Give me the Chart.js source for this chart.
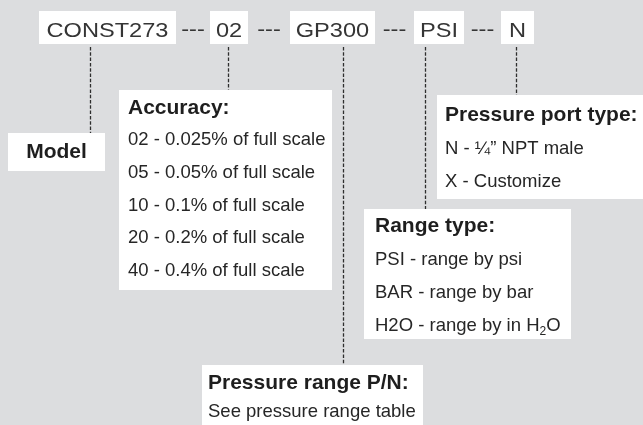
<!DOCTYPE html>
<html>
<head>
<meta charset="utf-8">
<script src="https://cdn.jsdelivr.net/npm/chart.js@4/dist/chart.umd.min.js"></script>
<style>
  html, body { margin: 0; padding: 0; background: #dcdddf; }
  canvas { display: block; }
</style>
</head>
<body>
<canvas id="partChart" width="643" height="425"></canvas>
<script>
// part number segments, left to right
const codes = ["CONST273", "02", "GP300", "PSI", "N"];
const separator = "---";

const modelTitle = "Model";
const accuracyTitle = "Accuracy:";
const accuracyOptions = [
    "02 - 0.025% of full scale",
    "05 - 0.05% of full scale",
    "10 - 0.1% of full scale",
    "20 - 0.2% of full scale",
    "40 - 0.4% of full scale"
];
const rangePnTitle = "Pressure range P/N:";
const rangePnOptions = ["See pressure range table"];
const rangeTypeTitle = "Range type:";
const rangeTypeOptions = [
    "PSI - range by psi",
    "BAR - range by bar",
    "H2O - range by in H\u2082O"
];
const portTitle = "Pressure port type:";
const portOptions = ["N - \u00BC\u201D NPT male", "X - Customize"];

// layout (canvas units, y grows downward)
const codeBoxes = [[39, 176], [210, 248], [290, 375], [414, 464], [501, 534]];
const codeRow = { top: 11, bottom: 44, baseline: 37 };

const panels = [
    { box: [8, 105, 133, 171], title: modelTitle, lines: [], center: true, titleBase: 158 },
    { box: [119, 332, 90, 290], title: accuracyTitle, lines: accuracyOptions, textX: 128, titleBase: 114, firstBase: 145, gap: 32.8 },
    { box: [202, 423, 365, 430], title: rangePnTitle, lines: rangePnOptions, textX: 208, titleBase: 389, firstBase: 417, gap: 33 },
    { box: [364, 571, 209, 339], title: rangeTypeTitle, lines: rangeTypeOptions, textX: 375, titleBase: 232, firstBase: 265, gap: 33 },
    { box: [437, 650, 95, 199], title: portTitle, lines: portOptions, textX: 445, titleBase: 121, firstBase: 154, gap: 33 }
];

// dashed leader from each code down to its panel
const leaderX = [90.5, 228.5, 343.5, 425.5, 516.5];
const leaderStart = 47;

const titleFont = "bold 21px 'Liberation Sans', Arial, sans-serif";
const codeFont = "19.5px 'Liberation Sans', Arial, sans-serif";
const codeStretch = 1.21;

const leaderSets = codes.map((c, i) => ({
    label: c,
    data: [
        { x: leaderX[i], y: leaderStart },
        { x: leaderX[i], y: panels[i].box[2] }
    ],
    showLine: true,
    borderColor: "#2e2e2e",
    borderWidth: 1.3,
    borderDash: [3.5, 1.8],
    pointRadius: 0,
    fill: false
}));

function px(chart, x) { return chart.scales.x.getPixelForValue(x); }
function py(chart, y) { return chart.scales.y.getPixelForValue(y); }

// draws text, handling the subscript ₂
function drawRich(ctx, str, x, y, size) {
    const parts = str.split("\u2082");
    let cx = x;
    parts.forEach((p, i) => {
        ctx.font = size + "px 'Liberation Sans', Arial, sans-serif";
        ctx.fillText(p, cx, y);
        cx += ctx.measureText(p).width;
        if (i < parts.length - 1) {
            ctx.font = (size * 0.65) + "px 'Liberation Sans', Arial, sans-serif";
            ctx.fillText("2", cx, y + size * 0.22);
            cx += ctx.measureText("2").width;
        }
    });
}

const backgroundPlugin = {
    id: "bg",
    beforeDraw(chart) {
        const ctx = chart.ctx;
        ctx.save();
        ctx.fillStyle = "#dcdddf";
        ctx.fillRect(0, 0, chart.width, chart.height);
        ctx.restore();
    }
};

const diagramPlugin = {
    id: "diagram",
    afterDatasetsDraw(chart) {
        const ctx = chart.ctx;
        ctx.save();

        // top row boxes with the codes
        codes.forEach((c, i) => {
            const [a, b] = codeBoxes[i];
            const x0 = px(chart, a), x1 = px(chart, b);
            const y0 = py(chart, codeRow.top), y1 = py(chart, codeRow.bottom);
            ctx.fillStyle = "#ffffff";
            ctx.fillRect(x0, y0, x1 - x0, y1 - y0);

            ctx.fillStyle = "#353535";
            ctx.font = codeFont;
            ctx.textAlign = "center";
            ctx.textBaseline = "alphabetic";
            ctx.save();
            ctx.translate((x0 + x1) / 2, py(chart, codeRow.baseline));
            ctx.scale(codeStretch, 1);
            ctx.fillText(c, 0, 0);
            ctx.restore();

            if (i < codes.length - 1) {
                const mid = (b + codeBoxes[i + 1][0]) / 2;
                ctx.save();
                ctx.translate(px(chart, mid), py(chart, codeRow.baseline - 1));
                ctx.scale(codeStretch, 1);
                ctx.fillText(separator, 0, 0);
                ctx.restore();
            }
        });

        // description panels
        panels.forEach(p => {
            const [a, b, t, u] = p.box;
            const x0 = px(chart, a), x1 = px(chart, b);
            const y0 = py(chart, t), y1 = py(chart, u);
            ctx.fillStyle = "#ffffff";
            ctx.fillRect(x0, y0, x1 - x0, y1 - y0);

            ctx.fillStyle = "#1e1e1e";
            ctx.font = titleFont;
            ctx.textBaseline = "alphabetic";
            if (p.center) {
                ctx.textAlign = "center";
                ctx.fillText(p.title, (x0 + x1) / 2, py(chart, p.titleBase));
            } else {
                ctx.textAlign = "left";
                ctx.fillText(p.title, px(chart, p.textX), py(chart, p.titleBase));
            }

            ctx.textAlign = "left";
            ctx.fillStyle = "#262626";
            p.lines.forEach((line, k) => {
                drawRich(ctx, line, px(chart, p.textX), py(chart, p.firstBase + k * p.gap), 18.5);
            });
        });

        ctx.restore();
    }
};

new Chart(document.getElementById("partChart"), {
    type: "scatter",
    data: { datasets: leaderSets },
    options: {
        responsive: false,
        animation: false,
        layout: { padding: 0 },
        plugins: {
            legend: { display: false },
            tooltip: { enabled: false }
        },
        scales: {
            x: { type: "linear", min: 0, max: 643, display: false },
            y: { type: "linear", min: 0, max: 425, reverse: true, display: false }
        }
    },
    plugins: [backgroundPlugin, diagramPlugin]
});
</script>
</body>
</html>
